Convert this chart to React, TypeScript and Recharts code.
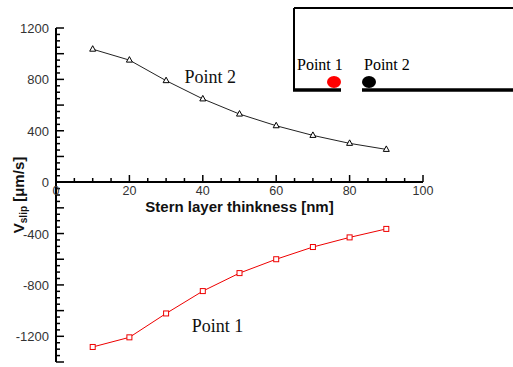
import React from "react";
import {
  ComposedChart,
  Line,
  XAxis,
  YAxis,
  ReferenceDot,
} from "recharts";

const thickness = [10, 20, 30, 40, 50, 60, 70, 80, 90];
const point2Slip = [1035, 950, 790, 648, 530, 439, 364, 302, 255];
const point1Slip = [-1283, -1208, -1022, -848, -708, -600, -505, -430, -364];

const xTicks = [0, 5, 10, 15, 20, 25, 30, 35, 40, 45, 50, 55, 60, 65, 70, 75, 80, 85, 90, 95, 100];
const xTickLabels = [0, 20, 40, 60, 80, 100];
const yTickLabels = [-1200, -800, -400, 0, 400, 800, 1200];
const yTicks = Array.from({ length: 53 }, (_, i) => -1400 + i * 50);

const data = thickness.map((t, i) => ({
  t,
  p1: point1Slip[i],
  p2: point2Slip[i],
}));

const W = 513;
const H = 367;
const margin = { top: 28, right: 90, bottom: 5, left: 10 };
const sans = "'Liberation Sans', Arial, sans-serif";
const serif = "'Liberation Serif', 'Times New Roman', serif";

const XTick = (props: any) => {
  const { x, y, payload } = props;
  const v = payload.value;
  const major = xTickLabels.includes(v);
  return (
    <g>
      <line x1={x} y1={y} x2={x} y2={y - (major ? 7 : 4)} stroke="#000" strokeWidth={1.5} />
      {major && (
        <text x={x} y={y + 13} textAnchor="middle" fontSize={12.5} fontFamily={sans} fill="#333">
          {v}
        </text>
      )}
    </g>
  );
};

const XLabel = (props: any) => {
  const { viewBox } = props;
  return (
    <text
      x={viewBox.x + viewBox.width / 2}
      y={viewBox.y + 30}
      textAnchor="middle"
      fontSize={15}
      fontWeight="bold"
      fontFamily={sans}
      fill="#111"
    >
      Stern layer thinkness [nm]
    </text>
  );
};

const YTick = (props: any) => {
  const { x, y, payload } = props;
  const v = payload.value;
  const labeled = yTickLabels.includes(v);
  const long = v % 200 === 0;
  return (
    <g>
      <line x1={x} y1={y} x2={x + (long ? 8 : 4)} y2={y} stroke="#000" strokeWidth={1.5} />
      {labeled && (
        <text x={x - 7} y={y + 5} textAnchor="end" fontSize={13} fontFamily={sans} fill="#333">
          {v}
        </text>
      )}
    </g>
  );
};

const YLabel = (props: any) => {
  const { viewBox } = props;
  const cx = viewBox.x + 8;
  const cy = viewBox.y + viewBox.height / 2;
  return (
    <text
      x={cx}
      y={cy}
      transform={`rotate(-90, ${cx}, ${cy})`}
      textAnchor="middle"
      dominantBaseline="central"
      fontSize={15}
      fontWeight="bold"
      fontFamily={sans}
      fill="#111"
    >
      <tspan>V</tspan>
      <tspan fontSize={10} dy={5}>slip</tspan>
      <tspan dy={-5}> [μm/s]</tspan>
    </text>
  );
};

const Triangle = (props: any) => {
  const { cx, cy, index } = props;
  return (
    <polygon
      key={index}
      points={`${cx},${cy - 3.5} ${cx - 3},${cy + 2} ${cx + 3},${cy + 2}`}
      fill="#fff"
      stroke="#000"
      strokeWidth={1}
    />
  );
};

const Square = (props: any) => {
  const { cx, cy, index } = props;
  return (
    <rect key={index} x={cx - 2.5} y={cy - 2.5} width={5} height={5} fill="#fff" stroke="#e00" strokeWidth={1} />
  );
};

const note = (text: string) => (props: any) => {
  const { viewBox } = props;
  return (
    <text x={viewBox.x} y={viewBox.y} fontSize={18} fontFamily={serif} fill="#111">
      {text}
    </text>
  );
};

const Inset = () => (
  <svg width={W} height={100} style={{ position: "absolute", left: 0, top: 0 }}>
    <line x1={294} y1={8} x2={W} y2={8} stroke="#000" strokeWidth={2} />
    <line x1={294} y1={8} x2={294} y2={91} stroke="#000" strokeWidth={2} />
    <line x1={293} y1={90} x2={341} y2={90} stroke="#000" strokeWidth={3.5} />
    <line x1={362} y1={90} x2={W} y2={90} stroke="#000" strokeWidth={3.5} />
    <text x={297} y={70} fontSize={16} fontFamily={serif} fill="#000">Point 1</text>
    <text x={364} y={70} fontSize={16} fontFamily={serif} fill="#000">Point 2</text>
    <ellipse cx={334} cy={82} rx={7} ry={6} fill="#f00" />
    <ellipse cx={369} cy={82} rx={7} ry={6} fill="#000" />
  </svg>
);

export default function App() {
  return (
    <div style={{ position: "absolute", left: 0, top: 0, width: W, height: H, background: "#fff" }}>
      <ComposedChart width={W} height={H} data={data} margin={margin} style={{ position: "absolute", left: 0, top: 0 }}>
        <XAxis dataKey="t" type="number" domain={[0, 100]} hide />
        <YAxis
          type="number"
          domain={[-1400, 1200]}
          ticks={yTicks}
          interval={0}
          width={46}
          tickSize={0}
          tickMargin={0}
          tickLine={false}
          tick={<YTick />}
          axisLine={{ stroke: "#000", strokeWidth: 2 }}
          label={<YLabel />}
        />
        <Line
          dataKey="p2"
          stroke="#222"
          strokeWidth={1}
          dot={<Triangle />}
          isAnimationActive={false}
        />
        <Line
          dataKey="p1"
          stroke="#e00"
          strokeWidth={1}
          dot={<Square />}
          isAnimationActive={false}
        />
        <ReferenceDot x={35} y={770} r={0} fill="none" stroke="none" label={note("Point 2")} />
        <ReferenceDot x={37} y={-1167} r={0} fill="none" stroke="none" label={note("Point 1")} />
      </ComposedChart>
      <ComposedChart
        width={W}
        height={222}
        data={data}
        margin={{ top: 0, right: 90, bottom: 0, left: 56 }}
        style={{ position: "absolute", left: 0, top: 0 }}
      >
        <XAxis
          dataKey="t"
          type="number"
          domain={[0, 100]}
          ticks={xTicks}
          interval={0}
          height={40}
          tickSize={0}
          tickMargin={0}
          tickLine={false}
          tick={<XTick />}
          axisLine={{ stroke: "#000", strokeWidth: 2 }}
          label={<XLabel />}
        />
        <YAxis type="number" domain={[0, 1]} hide />
      </ComposedChart>
      <Inset />
    </div>
  );
}
